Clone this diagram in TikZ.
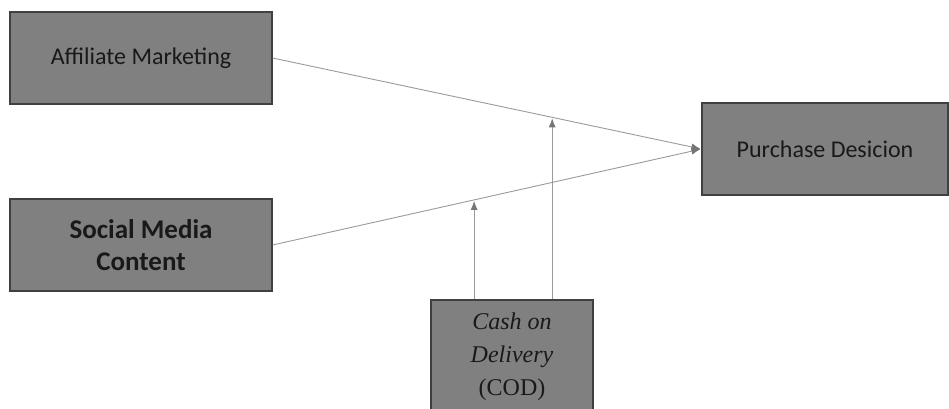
\documentclass[tikz,border=0pt]{standalone}
\usepackage{fontspec}
\setmainfont{Carlito}
\newfontfamily\codfont{Liberation Serif}
\usetikzlibrary{
	arrows.meta,
	calc,
	positioning
}
\definecolor{boxgray}{HTML}{808080}
\definecolor{edgegray}{HTML}{404040}
\definecolor{linegray}{HTML}{9A9A9A}
\definecolor{tipgray}{HTML}{767676}
\tikzset{
%Define standard arrow tip
>={Latex[length=9pt,width=7pt,color=tipgray]},
%Define style for boxes
blok/.style={
	rectangle,
	fill=boxgray,
	draw=edgegray, line width=1.2pt,
	text=black!90,
	align=center,
	inner sep=0pt},
% Define arrow style
pil/.style={
	->,
	draw=linegray,
	line width=0.9pt,
	shorten >=1pt,}
}
\begin{document}
\begin{tikzpicture}[x=1pt,y=-1pt]
				\useasboundingbox (0,0) rectangle (949,408);
				\tikzstyle{every node}=[font=\fontsize{24}{32}\selectfont]
				\node[blok, minimum width=262pt, minimum height=92pt] (aff) at (141,58) {Affiliate Marketing};
				\node[blok, minimum width=262pt, minimum height=92pt, font=\fontsize{27}{32}\selectfont\bfseries] (soc) at (141,245) {Social Media\\Content};
				\node[blok, minimum width=246pt, minimum height=92pt] (pd) at (825,149) {Purchase Desicion};
				\node[blok, minimum width=162pt, minimum height=114pt, font=\fontsize{24}{33}\selectfont\codfont] (cod) at (512,357) {{\itshape Cash on}\\{\itshape Delivery}\\(COD)};
				% main paths
				\draw[pil] (aff.east) -- (pd.west) coordinate[pos=0.652] (m1);
				\draw[pil] (soc.east) -- (pd.west) coordinate[pos=0.47] (m2);
				% moderating paths
				\draw[pil] (cod.north -| m1) -- (m1);
				\draw[pil] (cod.north -| m2) -- (m2);
			\end{tikzpicture}
\end{document}
